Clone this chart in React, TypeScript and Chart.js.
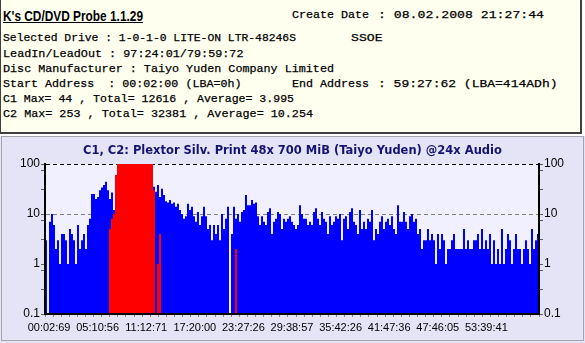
import React, { useEffect, useRef } from 'react';
import { Chart, registerables } from 'chart.js';

Chart.register(...registerables);

const CHART_TITLE = 'C1, C2: Plextor Silv. Print 48x 700 MiB (Taiyo Yuden) @24x Audio';

const X_TICK_LABELS = [
  '00:02:69', '05:10:56', '11:12:71', '17:20:00', '23:27:26',
  '29:38:57', '35:42:26', '41:47:36', '47:46:05', '53:39:41',
];

const Y_TICK_VALUES = [0.1, 0.316, 0.75, 1, 3.16, 7.5, 10, 31.6, 75, 100];
const Y_LABELED = [0.1, 1, 10, 100];

// C1 errors per sample
const C1 = [
  3, 0, 7, 10, 6, 2, 3, 1, 4, 4,
  3, 1, 5, 4, 3, 1, 6, 2, 3, 4,
  2, 6, 8, 25, 25, 20, 22, 30, 34, 38,
  44, 30, 20, 27, 12, 20, 35, 38, 40, 36,
  33, 30, 35, 40, 38, 34, 30, 32, 36, 40,
  35, 30, 28, 30, 35, 28, 38, 22, 32, 24,
  18, 17, 19, 16, 17, 14, 16, 12, 10, 8,
  9, 16, 12, 14, 9, 7, 11, 6, 9, 14,
  9, 5, 6, 3, 6, 4, 6, 3, 10, 5,
  8, 14, 0, 4, 14, 8, 10, 7, 11, 12,
  24, 15, 15, 19, 16, 17, 9, 6, 9, 7,
  6, 11, 13, 4, 7, 8, 11, 10, 5, 8,
  7, 8, 9, 7, 6, 5, 6, 15, 10, 8,
  8, 6, 7, 6, 11, 13, 8, 6, 11, 8,
  7, 4, 9, 6, 7, 9, 8, 10, 3, 8,
  9, 5, 11, 13, 7, 6, 4, 12, 5, 7,
  5, 8, 7, 12, 3, 5, 4, 7, 9, 5,
  7, 8, 6, 9, 5, 4, 15, 7, 7, 11,
  7, 5, 9, 10, 7, 8, 4, 5, 2, 3,
  3, 5, 3, 4, 3, 1, 4, 2, 4, 3,
  1, 2, 2, 3, 4, 2, 2, 2, 2, 5,
  2, 3, 2, 2, 3, 3, 4, 2, 5, 2,
  3, 2, 4, 1, 3, 1, 2, 1, 5, 1,
  2, 4, 3, 1, 2, 4, 2, 2, 1, 2,
  3, 2, 1, 5, 2, 3, 4,
];

// C2 errors per sample
const C2 = [
  0, 0, 0, 0, 0, 0, 0, 0, 0, 0, 0, 0, 0, 0, 0, 0, 0, 0, 0, 0,
  0, 0, 0, 0, 0, 0, 0, 0, 0, 0, 0, 0, 5, 8, 10, 60, 140, 180, 220, 253,
  230, 200, 190, 210, 240, 220, 200, 180, 210, 230, 190, 160, 130, 120, 30, 0, 1, 4, 0, 0,
  0, 0, 0, 0, 0, 0, 0, 0, 0, 0, 0, 0, 0, 0, 0, 0, 0, 0, 0, 0,
  0, 0, 0, 0, 0, 0, 0, 0, 0, 0, 0, 0, 0, 0, 0, 2, 0, 0, 0, 0,
  0, 0, 0, 0, 0, 0, 0, 0, 0, 0, 0, 0, 0, 0, 0, 0, 0, 0, 0, 0,
  0, 0, 0, 0, 0, 0, 0, 0, 0, 0, 0, 0, 0, 0, 0, 0, 0, 0, 0, 0,
  0, 0, 0, 0, 0, 0, 0, 0, 0, 0, 0, 0, 0, 0, 0, 0, 0, 0, 0, 0,
  0, 0, 0, 0, 0, 0, 0, 0, 0, 0, 0, 0, 0, 0, 0, 0, 0, 0, 0, 0,
  0, 0, 0, 0, 0, 0, 0, 0, 0, 0, 0, 0, 0, 0, 0, 0, 0, 0, 0, 0,
  0, 0, 0, 0, 0, 0, 0, 0, 0, 0, 0, 0, 0, 0, 0, 0, 0, 0, 0, 0,
  0, 0, 0, 0, 0, 0, 0, 0, 0, 0, 0, 0, 0, 0, 0, 0, 0, 0, 0, 0,
  0, 0, 0, 0, 0, 0, 0,
];

// Header text lines: [text, left, top, width]
const HEADER_LINES: [string, number, number, number][] = [
  ['Create Date', 292, 7, 77],
  [': 08.02.2008 21:27:44', 378, 7, 166],
  ['Selected Drive : 1-0-1-0 LITE-ON LTR-48246S', 3, 30, 293],
  ['SSOE', 350.5, 30, 31.5],
  ['LeadIn/LeadOut : 97:24:01/79:59:72', 3, 45.5, 240.5],
  ['Disc Manufacturer : Taiyo Yuden Company Limited', 3, 61, 331],
  ['Start Address  : 00:02:00 (LBA=0h)', 3, 76, 238.5],
  ['End Address', 292, 76, 77],
  [': 59:27:62 (LBA=414ADh)', 378, 76, 179.5],
  ['C1 Max= 44 , Total= 12616 , Average= 3.995', 3, 91, 291],
  ['C2 Max= 253 , Total= 32381 , Average= 10.254', 3, 106, 310],
];
const APP_TITLE = "K's CD/DVD Probe 1.1.29";

const BLUE = '#0000ff';
const RED = '#ff0000';
const PANEL_BG = '#e4e4f6';
const PLOT_BG = '#f0f0ff';
const HEADER_BG = '#fffff0';
const MONO_FAMILY = '"Liberation Mono", "DejaVu Sans Mono", "Noto Sans Mono", monospace';
const MONO_SIZE = 11.6;
const TITLE_FONT = 'bold 15px "Liberation Sans", Arial, sans-serif';

let measureCtx: CanvasRenderingContext2D | null = null;
function textWidth(text: string, font: string): number {
  if (!measureCtx) measureCtx = document.createElement('canvas').getContext('2d');
  if (!measureCtx) return 0;
  measureCtx.font = font;
  return measureCtx.measureText(text).width;
}

const panelPlugin = {
  id: 'panelBg',
  beforeDraw(chart: any) {
    const { ctx, chartArea: a, width, height } = chart;
    ctx.save();
    ctx.fillStyle = PANEL_BG;
    ctx.fillRect(0, 0, width, height);
    ctx.strokeStyle = '#a4a4ac';
    ctx.lineWidth = 1;
    ctx.strokeRect(1.5, 0.5, 582, 204);
    ctx.fillStyle = PLOT_BG;
    ctx.fillRect(a.left, a.top, a.right - a.left, a.bottom - a.top);
    ctx.restore();
  },
};

const xTickFont = { family: '"Liberation Sans", Arial, sans-serif', size: 11 };
const yTickFont = { family: '"Liberation Sans", Arial, sans-serif', size: 12 };

function yAxis(position: 'left' | 'right', width: number) {
  return {
    type: 'logarithmic',
    position,
    min: 0.1,
    max: 100,
    afterBuildTicks: (s: any) => {
      s.ticks = Y_TICK_VALUES.map((v) => ({ value: v }));
    },
    afterFit: (s: any) => {
      s.width = width;
    },
    ticks: {
      autoSkip: false,
      padding: 1,
      color: '#000',
      font: yTickFont,
      callback: (v: any) => (Y_LABELED.includes(Number(v)) ? String(v) : ''),
    },
    grid: {
      display: true,
      drawOnChartArea: position === 'left',
      drawTicks: true,
      tickLength: 4,
      tickColor: '#606060',
      lineWidth: 1,
      color: (c: any) =>
        c.tick && c.tick.value === 10 ? '#808080' : c.tick && c.tick.value === 100 ? '#000000' : 'rgba(0,0,0,0)',
    },
    border: { display: true, color: '#000', width: 2, z: 1, dash: [4, 3] },
  };
}

function FitText(props: { text: string; left: number; top: number; width: number }) {
  const font = `${MONO_SIZE}px ${MONO_FAMILY}`;
  const nat = textWidth(props.text, font) || props.width;
  const s = props.width / nat;
  return (
    <div
      style={{
        position: 'absolute',
        left: props.left,
        top: props.top,
        fontFamily: MONO_FAMILY,
        fontSize: `${MONO_SIZE}px`,
        lineHeight: '15px',
        whiteSpace: 'pre',
        color: '#000',
        WebkitTextStroke: '0.25px #000',
        transform: `scaleX(${s})`,
        transformOrigin: '0 0',
      }}
    >
      {props.text}
    </div>
  );
}

export default function App() {
  const ref = useRef<HTMLCanvasElement>(null);

  useEffect(() => {
    const labels = C1.map((_, i) => String(i));
    const chart = new Chart(ref.current as HTMLCanvasElement, {
      type: 'bar',
      data: {
        labels,
        datasets: [
          {
            label: 'C1',
            data: C1,
            backgroundColor: BLUE,
            xAxisID: 'xb',
            yAxisID: 'y',
            order: 2,
          } as any,
          {
            label: 'C2',
            data: C2,
            backgroundColor: RED,
            xAxisID: 'xb',
            yAxisID: 'y',
            order: 1,
          } as any,
        ],
      },
      options: {
        responsive: false,
        animation: false,
        events: [],
        layout: { padding: 0 },
        datasets: {
          bar: {
            barPercentage: 1,
            categoryPercentage: 1,
            grouped: false,
            inflateAmount: 0,
            borderWidth: 0,
            clip: 0,
          },
        } as any,
        plugins: {
          legend: { display: false },
          tooltip: { enabled: false },
          title: {
            display: true,
            text: CHART_TITLE,
            color: '#141470',
            font: { family: '"DejaVu Sans", Verdana, sans-serif', size: 11.5, weight: 'bold', lineHeight: 1.2 },
            padding: { top: 7.7, bottom: 6.5 },
          },
        },
        scales: {
          xb: {
            type: 'category',
            display: false,
            offset: true,
          },
          x: {
            type: 'linear',
            position: 'bottom',
            min: 0,
            max: 60,
            afterBuildTicks: (s: any) => {
              const t = [];
              for (let i = 0; i <= 60; i++) t.push({ value: i });
              s.ticks = t;
            },
            afterFit: (s: any) => {
              s.height = 29;
            },
            ticks: {
              autoSkip: false,
              maxRotation: 0,
              minRotation: 0,
              padding: 4,
              color: '#000',
              font: xTickFont,
              callback: (v: any) => {
                const n = Number(v);
                return n % 6 === 0 ? X_TICK_LABELS[n / 6] ?? '' : '';
              },
            },
            grid: {
              drawOnChartArea: false,
              drawTicks: true,
              tickLength: 3,
              tickColor: '#808080',
            },
            border: { display: true, color: '#000', width: 2, z: 1 },
          },
          y: yAxis('left', 45),
          y2: yAxis('right', 46),
        } as any,
      },
      plugins: [panelPlugin],
    });
    return () => chart.destroy();
  }, []);

  const titleNat = textWidth(APP_TITLE, TITLE_FONT) || 177;
  const titleScale = 140 / titleNat;

  return (
    <div style={{ position: 'absolute', left: 0, top: 0, width: 585, height: 343, background: '#ffffff', overflow: 'hidden' }}>
      <div
        style={{
          position: 'absolute',
          left: 0,
          top: 0,
          width: 582,
          height: 134,
          background: HEADER_BG,
          boxShadow: 'inset 1px 0 0 #404040, inset -2px -2px 0 #404040',
        }}
      >
        <div
          style={{
            position: 'absolute',
            left: 3,
            top: 7,
            font: TITLE_FONT,
            lineHeight: '17px',
            textDecoration: 'underline',
            transform: `scaleX(${titleScale})`,
            transformOrigin: '0 0',
            whiteSpace: 'nowrap',
            color: '#000',
          }}
        >
          {APP_TITLE}
        </div>
        {HEADER_LINES.map(([text, left, top, width], i) => (
          <FitText key={i} text={text} left={left} top={top} width={width} />
        ))}
      </div>
      <canvas
        ref={ref}
        width={585}
        height={207}
        style={{ position: 'absolute', left: 0, top: 136, width: 585, height: 207 }}
      />
    </div>
  );
}
